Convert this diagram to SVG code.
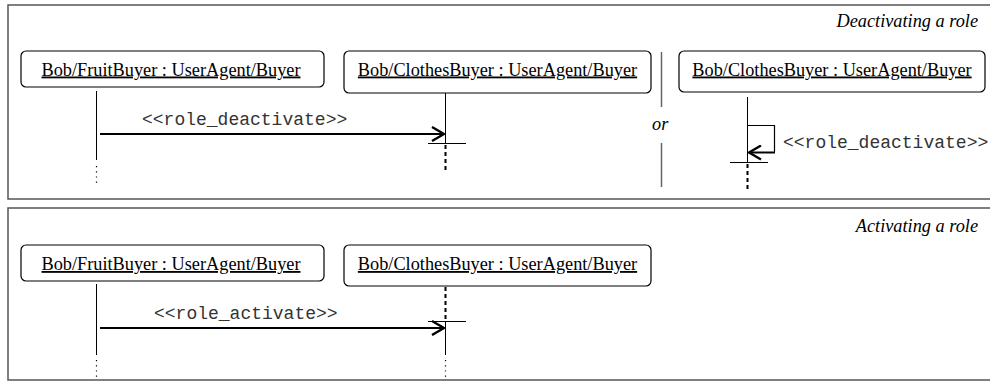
<svg xmlns="http://www.w3.org/2000/svg" width="990" height="382" viewBox="0 0 990 382">
<style>
.frame{fill:#fff;stroke:#555;stroke-width:1.5}
.box{fill:#fff;stroke:#000;stroke-width:1.2}
.nt{font-family:"Liberation Serif","Times New Roman",serif;font-size:18.3px;fill:#000;text-decoration:underline}
.title{font-family:"Liberation Serif","Times New Roman",serif;font-size:18.3px;font-style:italic;fill:#000}
.msg{font-family:"Liberation Mono","Courier New",monospace;font-size:18px;fill:#333}
.life{stroke:#000;stroke-width:1;fill:none}
.dots{stroke:#000;stroke-width:1.2;stroke-dasharray:1.2 4;fill:none}
.dash{stroke:#000;stroke-width:2;stroke-dasharray:4 3;fill:none}
.arr{stroke:#000;stroke-width:2;fill:none}
.sep{stroke:#666;stroke-width:1.5}
</style>
<defs>
<marker id="open" viewBox="0 0 14 16" refX="13" refY="8" markerWidth="14" markerHeight="16" markerUnits="userSpaceOnUse" orient="auto">
<path d="M1,1 L13,8 L1,15" fill="none" stroke="#000" stroke-width="2.4"/>
</marker>
</defs>
<rect class="frame" x="8" y="5" width="990" height="194"/>
<rect class="frame" x="8" y="208" width="990" height="172"/>
<text class="title" x="978" y="27" text-anchor="end">Deactivating a role</text>
<text class="title" x="978" y="232" text-anchor="end">Activating a role</text>
<g id="sep">
<line class="sep" x1="661.5" y1="52" x2="661.5" y2="107"/>
<line class="sep" x1="661.5" y1="143" x2="661.5" y2="187"/>
<text class="title" x="652" y="130">or</text>
</g>
<g id="d_fruit">
<rect class="box" x="21" y="51" width="303" height="36" rx="5"/>
<text class="nt" x="171" y="75.5" text-anchor="middle">Bob/FruitBuyer : UserAgent/Buyer</text>
<line class="life" x1="96.5" y1="91" x2="96.5" y2="160"/>
<line class="dots" x1="96.5" y1="166" x2="96.5" y2="186"/>
</g>
<g id="d_clothes">
<rect class="box" x="344" y="51" width="307" height="42" rx="5"/>
<text class="nt" x="497.5" y="75.5" text-anchor="middle">Bob/ClothesBuyer : UserAgent/Buyer</text>
<line class="life" x1="445.5" y1="93" x2="445.5" y2="143"/>
<line class="life" x1="428" y1="143.5" x2="466" y2="143.5"/>
<line class="dash" x1="445.5" y1="145" x2="445.5" y2="172"/>
</g>
<g id="d_clothes2">
<rect class="box" x="679" y="51" width="306" height="41" rx="5"/>
<text class="nt" x="832" y="75.5" text-anchor="middle">Bob/ClothesBuyer : UserAgent/Buyer</text>
<line class="life" x1="747.5" y1="97" x2="747.5" y2="162"/>
<line class="life" x1="730" y1="162.5" x2="768" y2="162.5"/>
<line class="dash" x1="747.5" y1="164" x2="747.5" y2="191"/>
</g>
<g id="a_fruit">
<rect class="box" x="21" y="245" width="303" height="36" rx="5"/>
<text class="nt" x="171" y="270" text-anchor="middle">Bob/FruitBuyer : UserAgent/Buyer</text>
<line class="life" x1="96.5" y1="284" x2="96.5" y2="355"/>
<line class="dots" x1="96.5" y1="360" x2="96.5" y2="379"/>
</g>
<g id="a_clothes">
<rect class="box" x="344" y="245" width="307" height="41" rx="5"/>
<text class="nt" x="497.5" y="270" text-anchor="middle">Bob/ClothesBuyer : UserAgent/Buyer</text>
<line class="dash" x1="445.5" y1="287" x2="445.5" y2="321"/>
<line class="life" x1="428" y1="321.5" x2="466" y2="321.5"/>
<line class="life" x1="445.5" y1="321" x2="445.5" y2="355"/>
<line class="dots" x1="445.5" y1="360" x2="445.5" y2="379"/>
</g>
<g id="connectors">
<line class="arr" x1="100" y1="134" x2="444" y2="134" marker-end="url(#open)"/>
<text class="msg" x="142" y="125">&lt;&lt;role_deactivate&gt;&gt;</text>
<path d="M747.5,125.5 H774.5 V152" stroke="#000" stroke-width="1.2" fill="none"/>
<line class="arr" x1="775" y1="152.5" x2="749" y2="152.5" marker-end="url(#open)"/>
<text class="msg" x="783" y="148">&lt;&lt;role_deactivate&gt;&gt;</text>
<line class="arr" x1="100" y1="328" x2="444" y2="328" marker-end="url(#open)"/>
<text class="msg" x="154" y="319">&lt;&lt;role_activate&gt;&gt;</text>
</g>
</svg>
